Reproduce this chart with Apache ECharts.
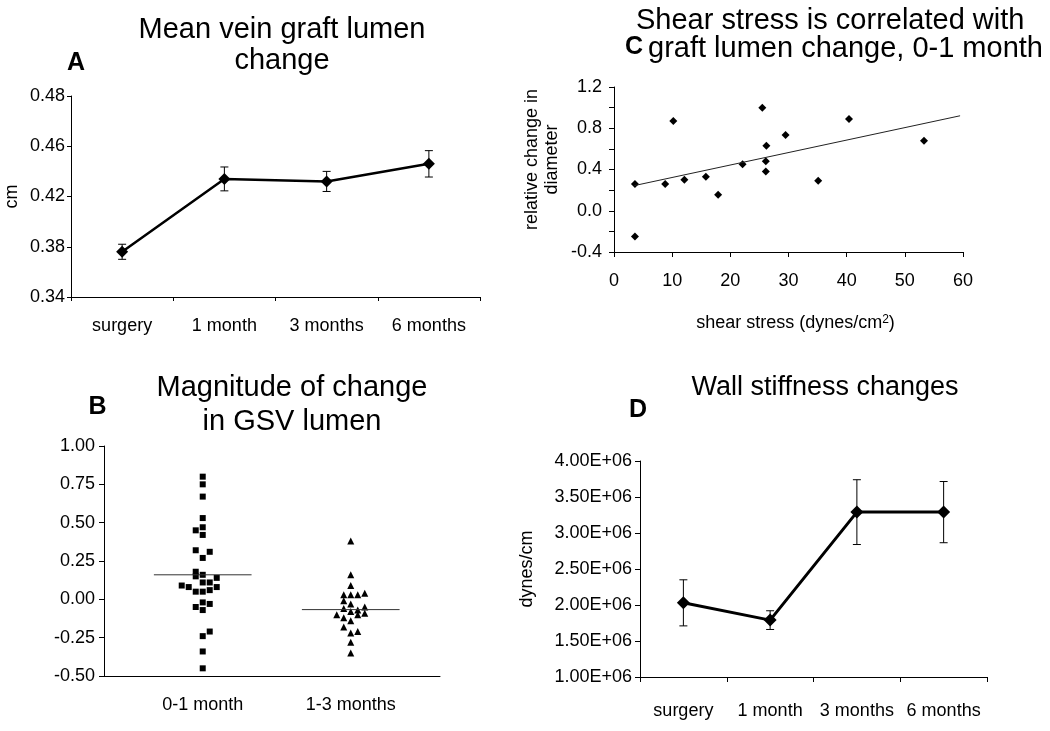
<!DOCTYPE html>
<html><head><meta charset="utf-8">
<script src="https://cdn.jsdelivr.net/npm/echarts@6/dist/echarts.min.js"></script>
<style>html,body{margin:0;padding:0;background:#fff}#c{width:1050px;height:731px}</style>
</head><body><div id="c"></div>
<script>
// ---------- Panel A: mean vein graft lumen ----------
const catsA = ['surgery', '1 month', '3 months', '6 months'];
const lumenMean = [0.376, 0.434, 0.432, 0.446];
const lumenErr = [0.006, 0.0095, 0.008, 0.0105];
const yTicksA = ['0.34', '0.38', '0.42', '0.46', '0.48'];

// ---------- Panel B: magnitude of change (dot plot) ----------
const groupsB = ['0-1 month', '1-3 months'];
const change01 = [0.80, 0.75, 0.67, 0.53, 0.47, 0.45, 0.42, 0.32, 0.31, 0.27, 0.18, 0.15, 0.16, 0.14, 0.09,
  0.08, 0.11, 0.11, 0.08, 0.05, 0.05, 0.06, -0.05, -0.02, -0.07, -0.03, -0.24, -0.21, -0.34, -0.45];
const slot01 = [0, 0, 0, 0, 0, -1, 0, -1, 1, 0, -1, -1, 0, 2, -3,
  -2, 0, 1, 2, -1, 0, 1, -1, 0, 0, 1, 0, 1, 0, 0];
const change13 = [0.38, 0.16, 0.09, 0.03, 0.03, 0.03, 0.04, -0.01, -0.03, -0.06, -0.08, -0.07,
  -0.05, -0.10, -0.12, -0.10, -0.09, -0.14, -0.18, -0.22, -0.21, -0.28, -0.35];
const slot13 = [0, 0, 0, -1, 0, 1, 2, -1, 0, -1, 0, 1, 2, -2, -1, 1, 2, 0, -1, 0, 1, 0, 0];
const mediansB = [0.16, -0.067];

// ---------- Panel C: shear stress vs relative change ----------
const shear = [3.6, 3.6, 8.8, 10.2, 12.1, 15.8, 17.9, 22.1, 25.5, 26.1, 26.2, 26.1, 29.5, 35.1, 40.4, 53.3];
const relChange = [0.26, -0.25, 0.26, 0.87, 0.30, 0.33, 0.155, 0.45, 1.00, 0.48, 0.63, 0.38, 0.735, 0.29, 0.89, 0.68];
const trendX = [3.5, 59.5];
const trendY = [0.244, 0.921];

// ---------- Panel D: wall stiffness ----------
const catsD = ['surgery', '1 month', '3 months', '6 months'];
const stiffMean = [2.03e6, 1.79e6, 3.29e6, 3.29e6];
const stiffErr = [0.32e6, 0.13e6, 0.45e6, 0.425e6];

const FONT = '"Liberation Sans", Arial, sans-serif';
const BLACK = '#000';
const SLOT = 0.0473;
const MEDIAN_HALF = 0.33;

function errBars(capHalf) {
  return function (params, api) {
    const x = api.value(0), lo = api.value(1), hi = api.value(2);
    const a = api.coord([x, lo]), b = api.coord([x, hi]);
    const st = { stroke: BLACK, lineWidth: 1 };
    return {
      type: 'group', children: [
        { type: 'line', shape: { x1: a[0], y1: a[1], x2: b[0], y2: b[1] }, style: st },
        { type: 'line', shape: { x1: a[0] - capHalf, y1: a[1], x2: a[0] + capHalf, y2: a[1] }, style: st },
        { type: 'line', shape: { x1: b[0] - capHalf, y1: b[1], x2: b[0] + capHalf, y2: b[1] }, style: st }
      ]
    };
  };
}

const axLine = { show: true, onZero: false, lineStyle: { color: BLACK, width: 1 } };
const lbl = (extra) => Object.assign({ color: BLACK, fontSize: 18, fontFamily: FONT }, extra);
const tick = (len) => ({ show: true, length: len, lineStyle: { color: BLACK, width: 1 } });

function titleItem(text, left, top, size, bold, lh, align) {
  return {
    text, left, top, textAlign: align || 'center', padding: 0,
    textStyle: { fontSize: size, fontWeight: bold ? 'bold' : 'normal', color: BLACK, fontFamily: FONT, lineHeight: lh }
  };
}

const option = {
  backgroundColor: '#fff',
  animation: false,
  textStyle: { fontFamily: FONT },
  title: [
    titleItem('Mean vein graft lumen\nchange', 282, 14, 29, false, 31.5),
    titleItem('A', 76, 49.5, 25, true, 28),
    titleItem('Magnitude of change\nin GSV lumen', 292, 370.5, 29, false, 34.5),
    titleItem('B', 97.5, 393, 25, true, 28),
    titleItem('Shear stress is correlated with', 636, 6.5, 29, false, 29, 'left'),
    titleItem('graft lumen change, 0-1 month', 648, 34, 29, false, 29, 'left'),
    titleItem('C', 634, 33, 25, true, 28),
    titleItem('Wall stiffness changes', 825, 372.5, 27, false, 30),
    titleItem('D', 638, 396, 25, true, 28)
  ],
  grid: [
    { left: 71, top: 96, width: 409, height: 201, outerBoundsMode: 'none' },
    { left: 104, top: 446, width: 336, height: 230, outerBoundsMode: 'none' },
    { left: 614, top: 87, width: 349, height: 165, outerBoundsMode: 'none' },
    { left: 640, top: 461, width: 347, height: 216, outerBoundsMode: 'none' }
  ],
  xAxis: [
    { gridIndex: 0, type: 'category', data: catsA, boundaryGap: true, axisLine: axLine, axisTick: tick(4),
      axisLabel: lbl({ margin: 20, interval: 0 }), splitLine: { show: false } },
    { gridIndex: 1, type: 'value', min: 0.333, max: 2.603, axisLine: axLine, axisTick: { show: false },
      splitLine: { show: false },
      axisLabel: lbl({ margin: 20, customValues: [1, 2], formatter: (v) => groupsB[Math.round(v) - 1] || '' }) },
    { gridIndex: 2, type: 'value', min: 0, max: 60, interval: 10, axisLine: axLine, axisTick: tick(5),
      splitLine: { show: false }, axisLabel: lbl({ margin: 20 }),
      name: 'shear stress (dynes/cm{sup|2})', nameLocation: 'middle', nameGap: 62,
      nameTextStyle: { color: BLACK, fontSize: 18, fontFamily: FONT, padding: [0, 0, 0, 14],
        rich: { sup: { fontSize: 12, verticalAlign: 'top', color: BLACK, fontFamily: FONT } } } },
    { gridIndex: 3, type: 'category', data: catsD, boundaryGap: true, axisLine: axLine, axisTick: tick(5),
      axisLabel: lbl({ margin: 25, interval: 0 }), splitLine: { show: false } }
  ],
  yAxis: [
    { gridIndex: 0, type: 'value', min: 0.34, max: 0.50, interval: 0.04, axisLine: axLine, axisTick: tick(4),
      splitLine: { show: false }, axisLabel: lbl({ margin: 6, formatter: (v, i) => yTicksA[i] }),
      name: 'cm', nameLocation: 'middle', nameGap: 50, nameTextStyle: { color: BLACK, fontSize: 18, fontFamily: FONT } },
    { gridIndex: 1, type: 'value', min: -0.5, max: 1.0, interval: 0.25, axisLine: axLine, axisTick: tick(5),
      splitLine: { show: false }, axisLabel: lbl({ margin: 9, formatter: (v) => v.toFixed(2) }) },
    { gridIndex: 2, type: 'value', min: -0.4, max: 1.2, interval: 0.4, axisLine: axLine, axisTick: tick(5),
      minorTick: { show: true, splitNumber: 2, length: 5, lineStyle: { color: BLACK, width: 1 } },
      splitLine: { show: false }, minorSplitLine: { show: false },
      axisLabel: lbl({ margin: 12, formatter: (v) => v.toFixed(1) }),
      name: 'relative change in\ndiameter', nameLocation: 'middle', nameGap: 52,
      nameTextStyle: { color: BLACK, fontSize: 18, fontFamily: FONT, lineHeight: 20, padding: [0, 0, 0, 20] } },
    { gridIndex: 3, type: 'value', min: 1e6, max: 4e6, interval: 5e5, axisLine: axLine, axisTick: tick(5),
      splitLine: { show: false }, axisLabel: lbl({ margin: 8, formatter: (v) => (v / 1e6).toFixed(2) + 'E+06' }),
      name: 'dynes/cm', nameLocation: 'middle', nameGap: 104,
      nameTextStyle: { color: BLACK, fontSize: 18, fontFamily: FONT } }
  ],
  series: [
    // Panel A
    { type: 'custom', xAxisIndex: 0, yAxisIndex: 0, z: 1,
      data: catsA.map((c, i) => [i, lumenMean[i] - lumenErr[i], lumenMean[i] + lumenErr[i]]),
      renderItem: errBars(4) },
    { type: 'line', xAxisIndex: 0, yAxisIndex: 0, z: 2, data: lumenMean, symbol: 'diamond', symbolSize: 12,
      lineStyle: { color: BLACK, width: 2.5 }, itemStyle: { color: BLACK, opacity: 1 } },
    // Panel B
    { type: 'scatter', xAxisIndex: 1, yAxisIndex: 1, symbol: 'rect', symbolSize: 6,
      itemStyle: { color: BLACK, opacity: 1 },
      data: change01.map((v, i) => [1 + slot01[i] * SLOT, v]) },
    { type: 'scatter', xAxisIndex: 1, yAxisIndex: 1, symbol: 'triangle', symbolSize: 7,
      itemStyle: { color: BLACK, opacity: 1 },
      data: change13.map((v, i) => [2 + slot13[i] * SLOT, v]) },
    ...mediansB.map((m, g) => ({
      type: 'line', xAxisIndex: 1, yAxisIndex: 1, symbol: 'none', z: 3,
      lineStyle: { color: '#333', width: 1 },
      data: [[g + 1 - MEDIAN_HALF, m], [g + 1 + MEDIAN_HALF, m]]
    })),
    // Panel C
    { type: 'scatter', xAxisIndex: 2, yAxisIndex: 2, symbol: 'diamond', symbolSize: 8,
      itemStyle: { color: BLACK, opacity: 1 }, data: shear.map((x, i) => [x, relChange[i]]) },
    { type: 'line', xAxisIndex: 2, yAxisIndex: 2, symbol: 'none', lineStyle: { color: '#222', width: 1 },
      data: trendX.map((x, i) => [x, trendY[i]]) },
    // Panel D
    { type: 'custom', xAxisIndex: 3, yAxisIndex: 3, z: 1,
      data: catsD.map((c, i) => [i, stiffMean[i] - stiffErr[i], stiffMean[i] + stiffErr[i]]),
      renderItem: errBars(4) },
    { type: 'line', xAxisIndex: 3, yAxisIndex: 3, z: 2, data: stiffMean, symbol: 'diamond', symbolSize: 13,
      lineStyle: { color: BLACK, width: 3 }, itemStyle: { color: BLACK, opacity: 1 } }
  ]
};

const chart = echarts.init(document.getElementById('c'), null, { renderer: 'canvas' });
chart.setOption(option);
</script>
</body></html>
